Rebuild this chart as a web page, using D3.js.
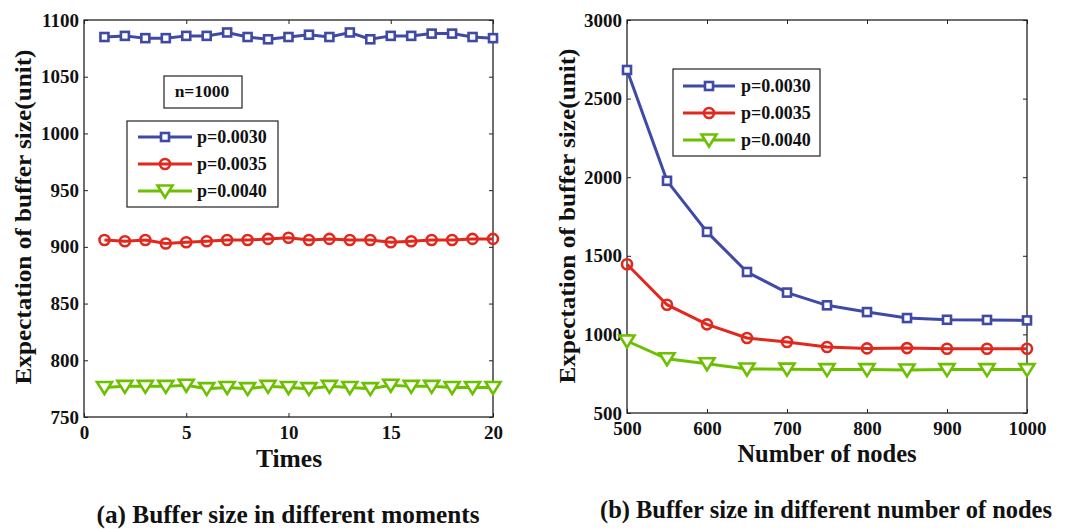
<!DOCTYPE html>
<html>
<head>
<meta charset="utf-8">
<script src="https://cdn.jsdelivr.net/npm/d3@7"></script>
<style>
  body { margin: 0; background: #fff; }
  svg { display: block; font-family: "Liberation Serif", "Times New Roman", serif; font-weight: bold; }
</style>
</head>
<body>
<svg id="chart" width="1079" height="529"></svg>
<script>
// ---- data ----
const times = d3.range(1, 21);
const moment030 = [1085, 1086, 1084, 1084, 1086, 1086, 1089, 1085, 1083, 1085, 1087, 1085, 1089, 1083, 1086, 1086, 1088, 1088, 1085, 1084];
const moment035 = [906, 905, 906, 903, 904, 905, 906, 906, 907, 908, 906, 907, 906, 906, 904, 905, 906, 906, 907, 907];
const moment040 = [776, 777, 777, 777, 778, 775, 776, 775, 777, 776, 775, 777, 776, 775, 778, 777, 777, 776, 776, 776];

const nodes = [500, 550, 600, 650, 700, 750, 800, 850, 900, 950, 1000];
const nodes030 = [2682, 1977, 1652, 1397, 1266, 1185, 1142, 1104, 1093, 1092, 1089];
const nodes035 = [1446, 1189, 1064, 977, 952, 920, 911, 913, 909, 909, 909];
const nodes040 = [958, 845, 813, 780, 779, 776, 776, 774, 776, 776, 776];

const seriesNames = ["p=0.0030", "p=0.0035", "p=0.0040"];
const colors = ["#3f49a6", "#e2281d", "#6dc000"];
const shapes = ["square", "circle", "tri"];

const leftXTicks = [0, 5, 10, 15, 20];
const leftYTicks = [750, 800, 850, 900, 950, 1000, 1050, 1100];
const rightXTicks = [500, 600, 700, 800, 900, 1000];
const rightYTicks = [500, 1000, 1500, 2000, 2500, 3000];

const svg = d3.select("#chart");

function marker(g, shape, color, x, y) {
  if (shape === "square") {
    g.append("rect").attr("x", x - 4).attr("y", y - 4).attr("width", 8).attr("height", 8)
      .attr("fill", "#fff").attr("stroke", color).attr("stroke-width", 2.6);
  } else if (shape === "circle") {
    g.append("circle").attr("cx", x).attr("cy", y).attr("r", 5)
      .attr("fill", "none").attr("stroke", color).attr("stroke-width", 2.6);
  } else {
    g.append("path").attr("d", `M${x - 7.5},${y - 5.5}L${x + 7.5},${y - 5.5}L${x},${y + 6.5}Z`)
      .attr("fill", "#fff").attr("stroke", color).attr("stroke-width", 2.6).attr("stroke-linejoin", "miter");
  }
}

function styleText(sel, size) {
  sel.attr("font-size", size).attr("font-family", "Liberation Serif").attr("font-weight", "bold").attr("fill", "#111");
}

function panel(cfg) {
  const x = d3.scaleLinear().domain(cfg.xDomain).range([cfg.left, cfg.right]);
  const y = d3.scaleLinear().domain(cfg.yDomain).range([cfg.bottom, cfg.top]);
  const g = svg.append("g");

  // box
  g.append("rect").attr("x", cfg.left).attr("y", cfg.top)
    .attr("width", cfg.right - cfg.left).attr("height", cfg.bottom - cfg.top)
    .attr("fill", "none").attr("stroke", "#222").attr("stroke-width", 1.3);

  // inward ticks on all sides
  const tk = 4;
  g.append("g").attr("transform", `translate(0,${cfg.bottom})`)
    .call(d3.axisBottom(x).tickValues(cfg.xTicks).tickSize(-tk).tickPadding(9).tickFormat(d3.format("d")))
    .call(a => a.select(".domain").remove())
    .call(a => a.selectAll("line").attr("stroke", "#222"))
    .call(a => styleText(a.selectAll("text"), 19));
  g.append("g").attr("transform", `translate(0,${cfg.top})`)
    .call(d3.axisTop(x).tickValues(cfg.xTicks).tickSize(-tk).tickFormat(""))
    .call(a => a.select(".domain").remove())
    .call(a => a.selectAll("line").attr("stroke", "#222"));
  g.append("g").attr("transform", `translate(${cfg.left},0)`)
    .call(d3.axisLeft(y).tickValues(cfg.yTicks).tickSize(-tk).tickPadding(5).tickFormat(d3.format("d")))
    .call(a => a.select(".domain").remove())
    .call(a => a.selectAll("line").attr("stroke", "#222"))
    .call(a => styleText(a.selectAll("text"), 19));
  g.append("g").attr("transform", `translate(${cfg.right},0)`)
    .call(d3.axisRight(y).tickValues(cfg.yTicks).tickSize(-tk).tickFormat(""))
    .call(a => a.select(".domain").remove())
    .call(a => a.selectAll("line").attr("stroke", "#222"));

  // series
  cfg.series.forEach((vals, i) => {
    const pts = cfg.xs.map((xv, j) => [x(xv), y(vals[j])]);
    g.append("path").attr("d", d3.line()(pts))
      .attr("fill", "none").attr("stroke", colors[i]).attr("stroke-width", 3);
    pts.forEach(p => marker(g, shapes[i], colors[i], p[0], p[1]));
  });

  // axis titles
  g.append("text").attr("x", cfg.xTitleX).attr("y", cfg.xTitleY)
    .attr("text-anchor", "middle").attr("font-size", cfg.xTitleSize).attr("fill", "#111").text(cfg.xTitle);
  g.append("text").attr("transform", `translate(${cfg.yTitleX},${cfg.yTitleMid}) rotate(-90)`)
    .attr("text-anchor", "middle").attr("font-size", 23.5).attr("fill", "#111")
    .attr("textLength", 335).attr("lengthAdjust", "spacingAndGlyphs")
    .text("Expectation of buffer size(unit)");

  // caption
  g.append("text").attr("x", cfg.capX).attr("y", cfg.capY)
    .attr("text-anchor", "middle").attr("font-size", 25).attr("fill", "#111")
    .attr("textLength", cfg.capW).attr("lengthAdjust", "spacingAndGlyphs").text(cfg.caption);

  // legend
  const L = cfg.legend;
  g.append("rect").attr("x", L.x).attr("y", L.y).attr("width", L.w).attr("height", L.h)
    .attr("fill", "#fff").attr("stroke", "#222").attr("stroke-width", 1.2);
  seriesNames.forEach((name, i) => {
    const ly = L.y + L.first + i * L.step;
    g.append("line").attr("x1", L.x + L.lx0).attr("x2", L.x + L.lx1).attr("y1", ly).attr("y2", ly)
      .attr("stroke", colors[i]).attr("stroke-width", 3);
    marker(g, shapes[i], colors[i], L.x + (L.lx0 + L.lx1) / 2, ly);
    g.append("text").attr("x", L.x + L.tx).attr("y", ly).attr("dy", "0.35em")
      .attr("font-size", 18).attr("fill", "#111").text(name);
  });
  return g;
}

const gl = panel({
  left: 84, right: 493, top: 20, bottom: 417,
  xDomain: [0, 20], yDomain: [750, 1100],
  xTicks: leftXTicks, yTicks: leftYTicks,
  xs: times, series: [moment030, moment035, moment040],
  xTitle: "Times", xTitleX: 289, xTitleY: 467, xTitleSize: 25.5,
  yTitleX: 31, yTitleMid: 217,
  caption: "(a) Buffer size in different moments", capX: 288, capY: 523, capW: 383,
  legend: { x: 127, y: 121, w: 151, h: 86, first: 16, step: 27, lx0: 11, lx1: 65, tx: 70 }
});

// n=1000 note box
gl.append("rect").attr("x", 164).attr("y", 76).attr("width", 78).attr("height", 32)
  .attr("fill", "#fff").attr("stroke", "#222").attr("stroke-width", 1.2);
gl.append("text").attr("x", 202).attr("y", 91).attr("dy", "0.35em").attr("text-anchor", "middle")
  .attr("font-size", 17.5).attr("fill", "#111").text("n=1000");

panel({
  left: 627, right: 1027, top: 20, bottom: 413,
  xDomain: [500, 1000], yDomain: [500, 3000],
  xTicks: rightXTicks, yTicks: rightYTicks,
  xs: nodes, series: [nodes030, nodes035, nodes040],
  xTitle: "Number of nodes", xTitleX: 827, xTitleY: 462, xTitleSize: 24.5,
  yTitleX: 575, yTitleMid: 216,
  caption: "(b) Buffer size in different number of nodes", capX: 826, capY: 518, capW: 452,
  legend: { x: 673, y: 69, w: 147, h: 87, first: 17, step: 27, lx0: 10, lx1: 62, tx: 68 }
});
</script>
</body>
</html>
